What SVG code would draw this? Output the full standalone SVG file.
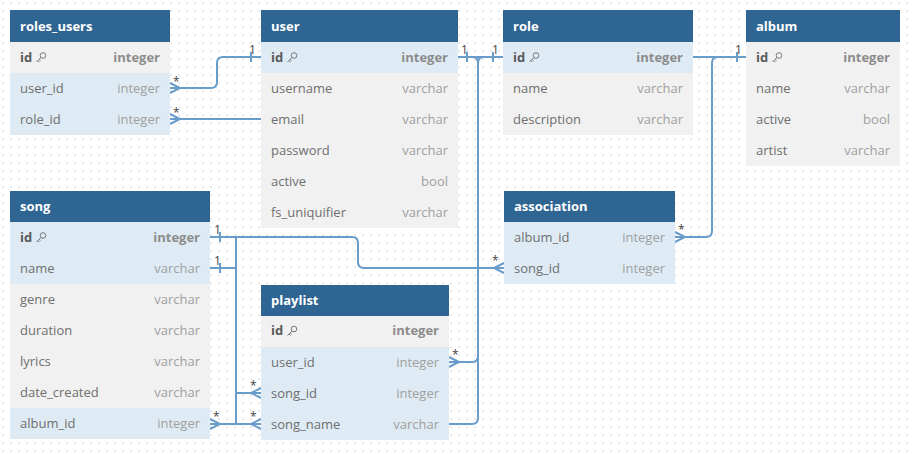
<svg xmlns="http://www.w3.org/2000/svg" xmlns:xlink="http://www.w3.org/1999/xlink" width="914" height="454" viewBox="0 0 914 454">
  <style>
    .hd { fill: #2f6593; }
    .ht { font: 700 13px "Open Sans", "Liberation Sans", sans-serif; fill: #ffffff; }
    .rg { fill: #f1f1f1; }
    .rb { fill: #deebf4; }
    .f { font: 13px "Open Sans", "Liberation Sans", sans-serif; fill: #6f6f6f; }
    .t { font: 13px "Open Sans", "Liberation Sans", sans-serif; fill: #a0a0a0; text-anchor: end; }
    .pk { font-weight: 700; fill: #5a5a5a; }
    .pkt { font-weight: 700; fill: #8c8c8c; }
    .ln { fill: none; stroke: #6a9ccb; stroke-width: 2; }
    .lb { font: 12px "Open Sans", "Liberation Sans", sans-serif; fill: #444444; }
  </style>
  <defs>
    <pattern id="dots" x="0" y="0" width="8" height="8" patternUnits="userSpaceOnUse">
      <rect x="2.5" y="2.5" width="1.2" height="1.2" fill="#c4c4c4"/>
    </pattern>
    <!-- primary key glyph, centred on its origin -->
    <g id="key" fill="none" stroke="#7a7a7a" stroke-width="1">
      <circle cx="2" cy="-2" r="2.8"/>
      <path d="M0,0 L-4.5,4.5 M-3,3 L-1.5,4.5 M-1.8,1.8 L-0.5,3.1"/>
    </g>
  </defs>

  <rect width="914" height="454" fill="#ffffff"/>
  <rect width="914" height="454" fill="url(#dots)"/>

  <!-- relationship lines -->
  <g id="connectors">
    <!-- roles_users.user_id > user.id -->
    <path class="ln" d="M170,88 H211 Q217,88 217,82 V63 Q217,57 223,57 H261"/>
    <path class="ln" d="M170,83 L180,88 L170,93"/>
    <path class="ln" d="M251,52 V62"/>
    <text class="lb" x="173" y="86">*</text>
    <text class="lb" x="249" y="54">1</text>

    <!-- roles_users.role_id -->
    <path class="ln" d="M170,119 H261"/>
    <path class="ln" d="M170,114 L180,119 L170,124"/>
    <text class="lb" x="173" y="117">*</text>

    <!-- user.id / role.id junction down to playlist -->
    <path class="ln" d="M458,57 H503"/>
    <path class="ln" d="M467,52 V62 M493,52 V62"/>
    <path class="ln" d="M472,57 Q478,57 478,63 M484,57 Q478,57 478,63"/>
    <path class="ln" d="M478,63 V356 Q478,362 472,362 H449"/>
    <path class="ln" d="M478,356 V418 Q478,424 472,424 H449"/>
    <path class="ln" d="M449,357 L459,362 L449,367"/>
    <text class="lb" x="461" y="54">1</text>
    <text class="lb" x="492" y="54">1</text>
    <text class="lb" x="452" y="359">*</text>

    <!-- album.id < association.album_id -->
    <path class="ln" d="M693,57 H746"/>
    <path class="ln" d="M737,52 V62"/>
    <path class="ln" d="M718,57 Q712,57 712,63 V231 Q712,237 706,237 H675"/>
    <path class="ln" d="M675,232 L685,237 L675,242"/>
    <text class="lb" x="735" y="54">1</text>
    <text class="lb" x="678" y="234">*</text>

    <!-- song.id < association.song_id -->
    <path class="ln" d="M210,237 H352 Q358,237 358,243 V262 Q358,268 364,268 H504"/>
    <path class="ln" d="M504,263 L494,268 L504,273"/>
    <path class="ln" d="M220,232 V242"/>
    <text class="lb" x="214" y="234">1</text>
    <text class="lb" x="492" y="265">*</text>

    <!-- song.name / song.id to playlist and song.album_id -->
    <path class="ln" d="M210,268 H236"/>
    <path class="ln" d="M220,263 V273"/>
    <text class="lb" x="214" y="265">1</text>
    <path class="ln" d="M236,237 V424"/>
    <path class="ln" d="M236,393 H261"/>
    <path class="ln" d="M261,388 L251,393 L261,398"/>
    <path class="ln" d="M210,424 H261"/>
    <path class="ln" d="M210,419 L220,424 L210,429"/>
    <path class="ln" d="M261,419 L251,424 L261,429"/>
    <text class="lb" x="250" y="390">*</text>
    <text class="lb" x="213" y="421">*</text>
    <text class="lb" x="250" y="421">*</text>
  </g>

  <!-- tables -->
  <g id="roles_users">
    <rect class="hd" x="10" y="10" width="160" height="32"/>
    <text class="ht" x="20" y="31">roles_users</text>
    <rect class="rg" x="10" y="42" width="160" height="31"/>
    <rect class="rb" x="10" y="73" width="160" height="62"/>
    <text class="f pk" x="20" y="62">id</text>
    <use xlink:href="#key" x="41" y="57.5"/>
    <text class="t pkt" x="160" y="62">integer</text>
    <text class="f" x="20" y="93">user_id</text>
    <text class="t" x="160" y="93">integer</text>
    <text class="f" x="20" y="124">role_id</text>
    <text class="t" x="160" y="124">integer</text>
  </g>

  <g id="user">
    <rect class="hd" x="261" y="10" width="197" height="32"/>
    <text class="ht" x="271" y="31">user</text>
    <rect class="rb" x="261" y="42" width="197" height="31"/>
    <rect class="rg" x="261" y="73" width="197" height="155"/>
    <text class="f pk" x="271" y="62">id</text>
    <use xlink:href="#key" x="292" y="57.5"/>
    <text class="t pkt" x="448" y="62">integer</text>
    <text class="f" x="271" y="93">username</text>
    <text class="t" x="448" y="93">varchar</text>
    <text class="f" x="271" y="124">email</text>
    <text class="t" x="448" y="124">varchar</text>
    <text class="f" x="271" y="155">password</text>
    <text class="t" x="448" y="155">varchar</text>
    <text class="f" x="271" y="186">active</text>
    <text class="t" x="448" y="186">bool</text>
    <text class="f" x="271" y="217">fs_uniquifier</text>
    <text class="t" x="448" y="217">varchar</text>
  </g>

  <g id="role">
    <rect class="hd" x="503" y="10" width="190" height="32"/>
    <text class="ht" x="513" y="31">role</text>
    <rect class="rb" x="503" y="42" width="190" height="31"/>
    <rect class="rg" x="503" y="73" width="190" height="62"/>
    <text class="f pk" x="513" y="62">id</text>
    <use xlink:href="#key" x="534" y="57.5"/>
    <text class="t pkt" x="683" y="62">integer</text>
    <text class="f" x="513" y="93">name</text>
    <text class="t" x="683" y="93">varchar</text>
    <text class="f" x="513" y="124">description</text>
    <text class="t" x="683" y="124">varchar</text>
  </g>

  <g id="album">
    <rect class="hd" x="746" y="10" width="154" height="32"/>
    <text class="ht" x="756" y="31">album</text>
    <rect class="rg" x="746" y="42" width="154" height="124"/>
    <text class="f pk" x="756" y="62">id</text>
    <use xlink:href="#key" x="777" y="57.5"/>
    <text class="t pkt" x="890" y="62">integer</text>
    <text class="f" x="756" y="93">name</text>
    <text class="t" x="890" y="93">varchar</text>
    <text class="f" x="756" y="124">active</text>
    <text class="t" x="890" y="124">bool</text>
    <text class="f" x="756" y="155">artist</text>
    <text class="t" x="890" y="155">varchar</text>
  </g>

  <g id="song">
    <rect class="hd" x="10" y="191" width="200" height="31"/>
    <text class="ht" x="20" y="211">song</text>
    <rect class="rb" x="10" y="222" width="200" height="62"/>
    <rect class="rg" x="10" y="284" width="200" height="124"/>
    <rect class="rb" x="10" y="408" width="200" height="31"/>
    <text class="f pk" x="20" y="242">id</text>
    <use xlink:href="#key" x="41" y="237.5"/>
    <text class="t pkt" x="200" y="242">integer</text>
    <text class="f" x="20" y="273">name</text>
    <text class="t" x="200" y="273">varchar</text>
    <text class="f" x="20" y="304">genre</text>
    <text class="t" x="200" y="304">varchar</text>
    <text class="f" x="20" y="335">duration</text>
    <text class="t" x="200" y="335">varchar</text>
    <text class="f" x="20" y="366">lyrics</text>
    <text class="t" x="200" y="366">varchar</text>
    <text class="f" x="20" y="397">date_created</text>
    <text class="t" x="200" y="397">varchar</text>
    <text class="f" x="20" y="428">album_id</text>
    <text class="t" x="200" y="428">integer</text>
  </g>

  <g id="association">
    <rect class="hd" x="504" y="191" width="171" height="31"/>
    <text class="ht" x="514" y="211">association</text>
    <rect class="rb" x="504" y="222" width="171" height="62"/>
    <text class="f" x="514" y="242">album_id</text>
    <text class="t" x="665" y="242">integer</text>
    <text class="f" x="514" y="273">song_id</text>
    <text class="t" x="665" y="273">integer</text>
  </g>

  <g id="playlist">
    <rect class="hd" x="261" y="285" width="188" height="31"/>
    <text class="ht" x="271" y="305">playlist</text>
    <rect class="rg" x="261" y="316" width="188" height="31"/>
    <rect class="rb" x="261" y="347" width="188" height="93"/>
    <text class="f pk" x="271" y="335">id</text>
    <use xlink:href="#key" x="292" y="331"/>
    <text class="t pkt" x="439" y="335">integer</text>
    <text class="f" x="271" y="367">user_id</text>
    <text class="t" x="439" y="367">integer</text>
    <text class="f" x="271" y="398">song_id</text>
    <text class="t" x="439" y="398">integer</text>
    <text class="f" x="271" y="429">song_name</text>
    <text class="t" x="439" y="429">varchar</text>
  </g>
</svg>
